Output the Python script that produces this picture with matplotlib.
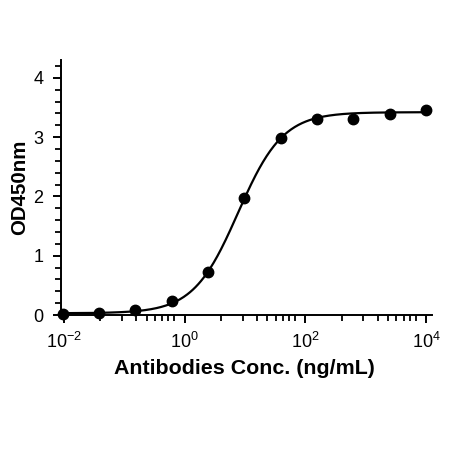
import numpy as np
import matplotlib
matplotlib.use("Agg")
import matplotlib.pyplot as plt
from matplotlib.ticker import FixedLocator, FixedFormatter

plt.rcParams['font.family'] = ['Liberation Sans', 'DejaVu Sans']
plt.rcParams['mathtext.default'] = 'regular'

# antibody concentrations (ng/mL), 4-fold serial dilution
conc = [0.0095, 0.038, 0.153, 0.61, 2.44, 9.77, 39.06, 156.25, 625, 2500, 10000]
# measured OD450
od450 = [0.02, 0.035, 0.085, 0.235, 0.73, 1.97, 2.98, 3.30, 3.31, 3.39, 3.45]

# 4PL fit parameters
fit_bottom = 0.03
fit_top = 3.42
fit_ec50 = 7.7
fit_hill = 1.17

x_major = [1e-2, 1e0, 1e2, 1e4]
x_major_labels = [r'$10^{-2}$', r'$10^{0}$', r'$10^{2}$', r'$10^{4}$']
y_major = [0, 1, 2, 3, 4]

fig = plt.figure(figsize=(4.5, 4.51), dpi=100)
ax = fig.add_axes([61.5 / 450, 136 / 451, (432 - 61.5) / 450, (315 - 60) / 451])

# fitted curve
xs = np.logspace(np.log10(conc[0]), np.log10(conc[-1]), 400)
ys = fit_bottom + (fit_top - fit_bottom) / (1 + (fit_ec50 / xs) ** fit_hill)
ax.plot(xs, ys, color='black', lw=1.6, zorder=2)

# data points
ax.plot(conc, od450, 'o', color='black', ms=7.5, zorder=3, clip_on=False)

ax.set_xscale('log')
ax.set_xlim(10 ** -2.04, 10 ** 4.1)
ax.set_ylim(0, 4.3)

# axes styling
for side in ['top', 'right']:
    ax.spines[side].set_visible(False)
for side in ['left', 'bottom']:
    ax.spines[side].set_linewidth(1.4)

ax.xaxis.set_major_locator(FixedLocator(x_major))
ax.xaxis.set_major_formatter(FixedFormatter(x_major_labels))
# minor ticks as spaced in the original plot
offsets = [0.605, 0.96, 1.20, 1.37, 1.51, 1.63, 1.73, 1.83]
minor = [10 ** (m + o) for m in (-2, 0, 2) for o in offsets]
ax.xaxis.set_minor_locator(FixedLocator(minor))
ax.xaxis.set_minor_formatter(FixedFormatter([''] * len(minor)))

ax.yaxis.set_major_locator(FixedLocator(y_major))
ax.yaxis.set_minor_locator(FixedLocator(np.arange(0.2, 4.3, 0.2)))

ax.tick_params(axis='both', which='major', length=6, width=1.4, labelsize=13, direction='out')
ax.tick_params(axis='both', which='minor', length=4, width=1.3, direction='out')
ax.tick_params(axis='x', which='major', pad=6)
ax.tick_params(axis='y', which='major', pad=7)

ax.set_xlabel('Antibodies Conc. (ng/mL)', fontsize=15.4, fontweight='bold')
ax.set_ylabel('OD450nm', fontsize=14.8, fontweight='bold')
ax.xaxis.set_label_coords(0.4926, -0.173)
ax.yaxis.set_label_coords(-0.088, 0.5)

fig.savefig('out.png', dpi=100)
